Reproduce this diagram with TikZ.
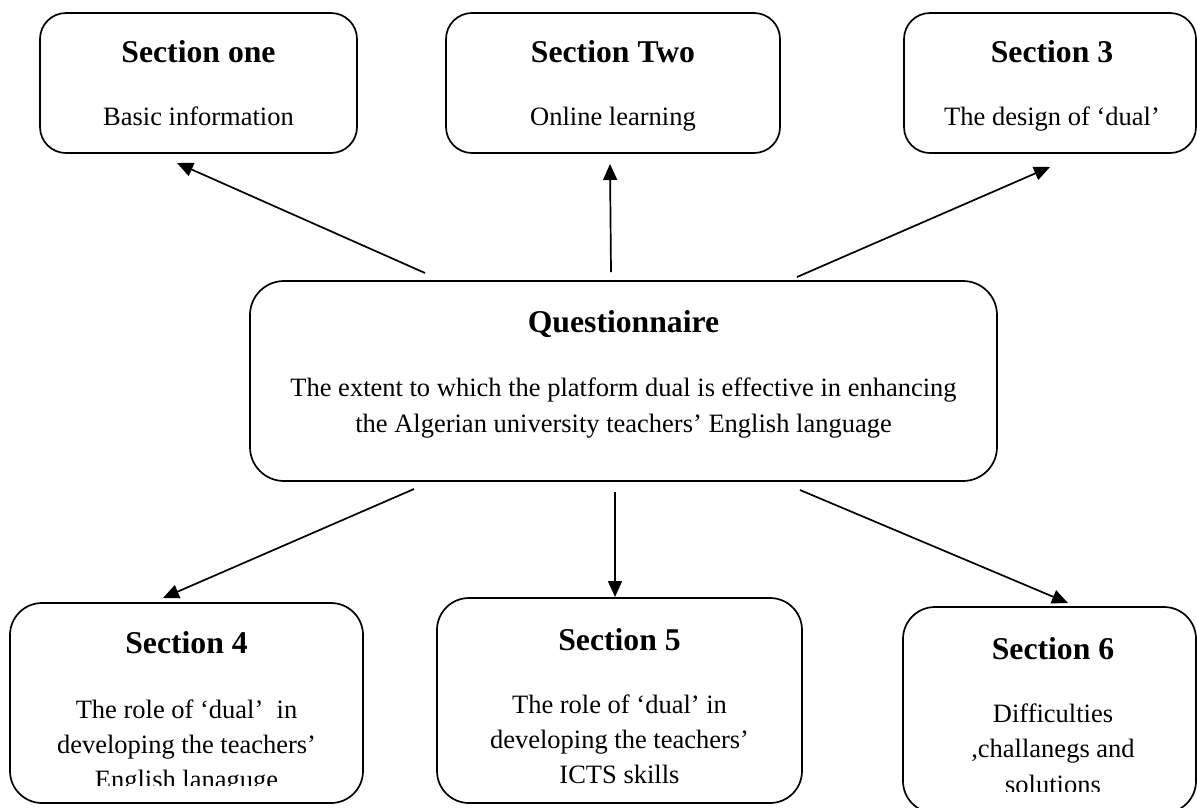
\documentclass[tikz,border=0pt]{standalone}
\usepackage{fontspec}
\setmainfont{Liberation Serif}
\usetikzlibrary{arrows.meta}
\tikzset{
  box/.style={draw=black, line width=1.7pt, rounded corners=26pt, inner sep=0pt},
  ttl/.style={anchor=base, inner sep=0pt, font=\fontsize{31.7}{36}\selectfont\bfseries},
  bdy/.style={anchor=base, inner sep=0pt, font=\fontsize{26.5}{35}\selectfont},
  arr/.style={line width=1.7pt, -{Triangle[length=16pt,width=14pt]}}
}
\begin{document}
\begin{tikzpicture}[x=1pt,y=-1pt]
\useasboundingbox (0,0) rectangle (1197,807);
\clip (0,0) rectangle (1197,807);
% boxes
\node[box, minimum width=317pt, minimum height=140pt] (s1) at (198.5,83) {};
\node[box, minimum width=334pt, minimum height=140pt] (s2) at (613,83) {};
\node[box, minimum width=292pt, minimum height=140pt] (s3) at (1050,83) {};
\node[box, minimum width=747pt, minimum height=200pt, rounded corners=34pt] (q) at (623.5,381) {};
\node[box, minimum width=353pt, minimum height=200pt, rounded corners=32pt] (s4) at (186.5,703) {};
\node[box, minimum width=365pt, minimum height=205pt, rounded corners=32pt] (s5) at (619.5,700.5) {};
\node[box, minimum width=293pt, minimum height=206pt, rounded corners=32pt] (s6) at (1049.5,710) {};
% texts
\node[ttl] (t1) at (198.5,62) {Section one};
\node[bdy] (b1) at (198.5,125) {Basic information};
\node[ttl] (t2) at (613,62) {Section Two};
\node[bdy] (b2) at (613,125) {Online learning};
\node[ttl] (t3) at (1052,62) {Section 3};
\node[bdy] (b3) at (1052,125) {The design of ‘dual’};
\node[ttl] (tq) at (623.5,332) {Questionnaire};
\node[bdy] (q1) at (623.5,396) {The extent to which the platform dual is effective in enhancing};
\node[bdy] (q2) at (623.5,432) {the Algerian university teachers’ English language};
\node[ttl] (t4) at (186.5,653) {Section 4};
\node[bdy] (s4a) at (186.5,718) {The role of ‘dual’\ \ in};
\node[bdy] (s4b) at (186.5,753) {developing the teachers’};
\begin{scope}
\clip (0,0) rectangle (1197,785);
\node[bdy] (s4c) at (186.5,788) {English lanaguge};
\end{scope}
\node[ttl] (t5) at (619.5,650) {Section 5};
\node[bdy] (s5a) at (619.5,713) {The role of ‘dual’ in};
\node[bdy] (s5b) at (619.5,748) {developing the teachers’};
\node[bdy] (s5c) at (619.5,783) {ICTS skills};
\node[ttl] (t6) at (1053,659) {Section 6};
\node[bdy] (s6a) at (1053,722) {Difficulties};
\node[bdy] (s6b) at (1053,757) {,challanegs and};
\begin{scope}
\clip (0,0) rectangle (1197,791);
\node[bdy] (s6c) at (1053,793) {solutions};
\end{scope}
% arrow end points
\coordinate (qa1) at (425,273);
\coordinate (qa2) at (611,272);
\coordinate (qa3) at (797,277);
\coordinate (qb1) at (414,489);
\coordinate (qb2) at (615,492);
\coordinate (qb3) at (800,490);
\coordinate (e1) at (177,163);
\coordinate (e2) at (610,164);
\coordinate (e3) at (1050,167);
\coordinate (e4) at (163,598);
\coordinate (e5) at (615,597);
\coordinate (e6) at (1068,603);
\draw[arr] (qa1) -- (e1);
\draw[arr] (qa2) -- (e2);
\draw[arr] (qa3) -- (e3);
\draw[arr] (qb1) -- (e4);
\draw[arr] (qb2) -- (e5);
\draw[arr] (qb3) -- (e6);
\end{tikzpicture}
\end{document}
